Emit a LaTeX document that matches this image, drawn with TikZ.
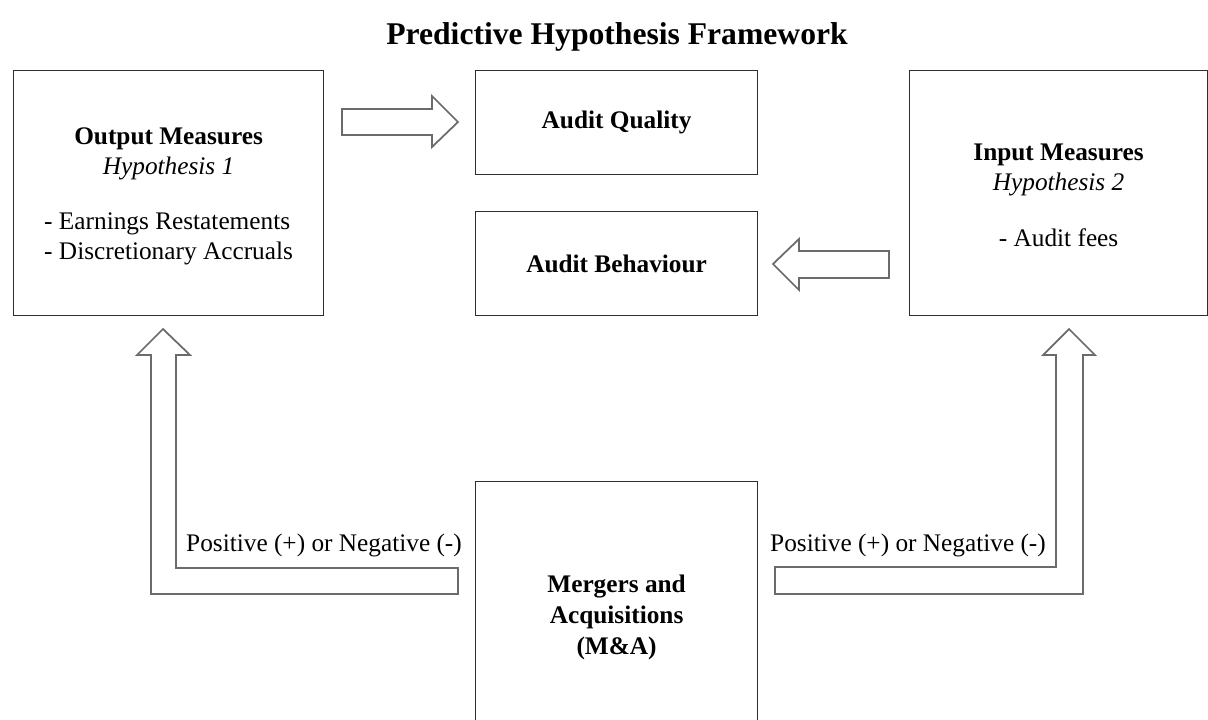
\documentclass[tikz,border=0pt]{standalone}
\usepackage{fontspec}
\setmainfont{Liberation Serif}
\begin{document}
\begin{tikzpicture}[x=0.02cm,y=-0.02cm]


  \newcommand{\bfnt}{\fontsize{14.4}{17}\selectfont}

  \definecolor{arrcol}{rgb}{0.42,0.42,0.42}
  \definecolor{boxcol}{rgb}{0.18,0.18,0.18}

 \tikzset{
      boxstl/.style={draw=boxcol,line width=0.7pt,anchor=north west,align=center,inner sep=0pt,font=\bfnt},
      arrstl/.style={draw=arrcol,line width=1pt,fill=white},
      lblstl/.style={inner sep=0pt,font=\bfnt},
    }

 \useasboundingbox (0,0) rectangle (1208,720);

 %% north west corners of the boxes.
 \coordinate (nwout) at (13,70);
 \coordinate (nwqual) at (475,70);
 \coordinate (nwbeh) at (475,211);
 \coordinate (nwin) at (909,70);
 \coordinate (nwma) at (475,481);

  \node (title) at (617,37) {\fontsize{18}{21}\selectfont\bfseries Predictive Hypothesis Framework};

  \node[boxstl,minimum width=6.2cm,minimum height=4.9cm] (outm) at (nwout)
  {\rule{0pt}{15.2pt}\textbf{Output Measures}\\\textit{Hypothesis 1}\\[14pt]
  \begin{tabular}[t]{@{}l@{}}- Earnings Restatements\\- Discretionary Accruals\end{tabular}};

  \node[boxstl,minimum width=5.64cm,minimum height=2.08cm] (qual) at (nwqual) {\textbf{Audit Quality}};

  \node[boxstl,minimum width=5.64cm,minimum height=2.08cm] (beh) at (nwbeh) {\textbf{Audit Behaviour}};

  \node[boxstl,minimum width=5.96cm,minimum height=4.9cm] (inm) at (nwin)
  {\rule{0pt}{12pt}\textbf{Input Measures}\\\textit{Hypothesis 2}\\[15pt]- Audit fees};

  \node[boxstl,minimum width=5.64cm,minimum height=5.44cm,font=\fontsize{14.4}{17.6}\selectfont\bfseries] (ma) at (nwma)
  {Mergers and\\Acquisitions\\(M\&A)};

% block arrows
  \filldraw[arrstl] (342,109) -- (432,109) -- (432,96) -- (458,122) -- (432,147) -- (432,135) -- (342,135) -- cycle;

  \filldraw[arrstl] (889,251) -- (799,251) -- (799,239) -- (773,264) -- (799,290) -- (799,278) -- (889,278) -- cycle;

  \filldraw[arrstl] (458,568) -- (176,568) -- (176,355) -- (190,355) -- (163,329) -- (137,355) -- (151,355) -- (151,594) -- (458,594) -- cycle;

  \filldraw[arrstl] (775,567) -- (1056,567) -- (1056,355) -- (1043,355) -- (1069,329) -- (1095,355) -- (1083,355) -- (1083,594) -- (775,594) -- cycle;

  \node[lblstl] (lpos) at (324,545) {Positive (+) or Negative (-)};
  \node[lblstl] (rpos) at (908,545) {Positive (+) or Negative (-)};


\end{tikzpicture}
\end{document}
